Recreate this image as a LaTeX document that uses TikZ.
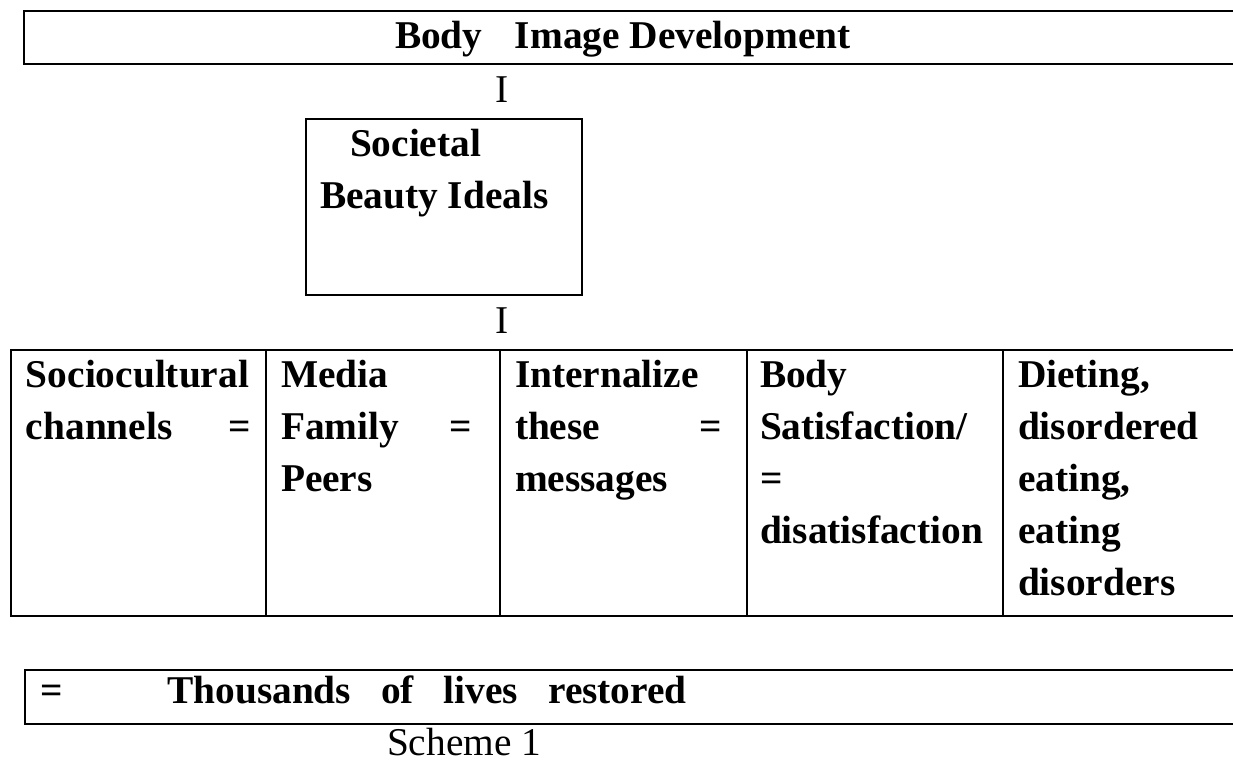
\documentclass[tikz,border=0pt]{standalone}
\usepackage{fontspec}
\setmainfont{Liberation Serif}
\usepackage{tikz}

\tikzset{
  cell/.style={anchor=north west, inner sep=0pt, outer sep=0pt, align=left,
    font=\fontsize{22.4pt}{29.6pt}\selectfont\bfseries},
  plain/.style={inner sep=0pt, outer sep=0pt,
    font=\fontsize{22.4pt}{29.6pt}\selectfont},
  frame/.style={line width=1.1pt}
}

\begin{document}
\begin{tikzpicture}[x=0.02cm, y=-0.02cm]
      \useasboundingbox (0,0) rectangle (1233,765);
      % Label: title bar across the top
      \draw[frame] (24,11) rectangle (1245,64);
      \node[cell, anchor=base west] (title) at (395,48) {Body\hspace{0.65cm}Image Development};
      \node[plain, anchor=base] (tickA) at (502,102) {I};
      % Label: "Societal Beauty Ideals" box
      \draw[frame, line width=1pt] (306,119) rectangle (582,295);
      \node[cell] (ideals) at (320,120.5) {\strut\hspace*{0.6cm}Societal\\Beauty Ideals};
      \node[plain, anchor=base] (tickB) at (502,333) {I};
      % table of the five stages
      \draw[frame] (11,350) rectangle (1245,616);
      \foreach \x in {266, 500, 747, 1003} {
        \draw[frame] (\x,350) -- (\x,616);
      }
      \node[cell, text width=4.5cm] (socio) at (26,351.5) {\strut Sociocultural\\channels\hfill=};
      \node[cell, text width=3.82cm] (media) at (281,351.5) {\strut Media\\Family\hfill=\\Peers};
      \node[cell, text width=4.14cm] (intern) at (515,351.5) {\strut Internalize\\these\hfill=\\messages};
      \node[cell] (satis) at (760,351.5) {\strut Body\\Satisfaction/\\=\\disatisfaction};
      \node[cell] (dieting) at (1018,351.5) {\strut Dieting,\\disordered\\eating,\\eating\\disorders};
      % Label: outcome bar at the bottom
      \draw[frame] (25,670) rectangle (1245,724);
      \node[cell, anchor=base west] (lives) at (40,703)
        {=\hspace{2.1cm}Thousands\hspace{0.6cm}of\hspace{0.6cm}lives\hspace{0.6cm}restored};
      \node[plain, anchor=base west, text depth=0pt] (caption) at (387,755) {Scheme 1};
    \end{tikzpicture}
\end{document}
